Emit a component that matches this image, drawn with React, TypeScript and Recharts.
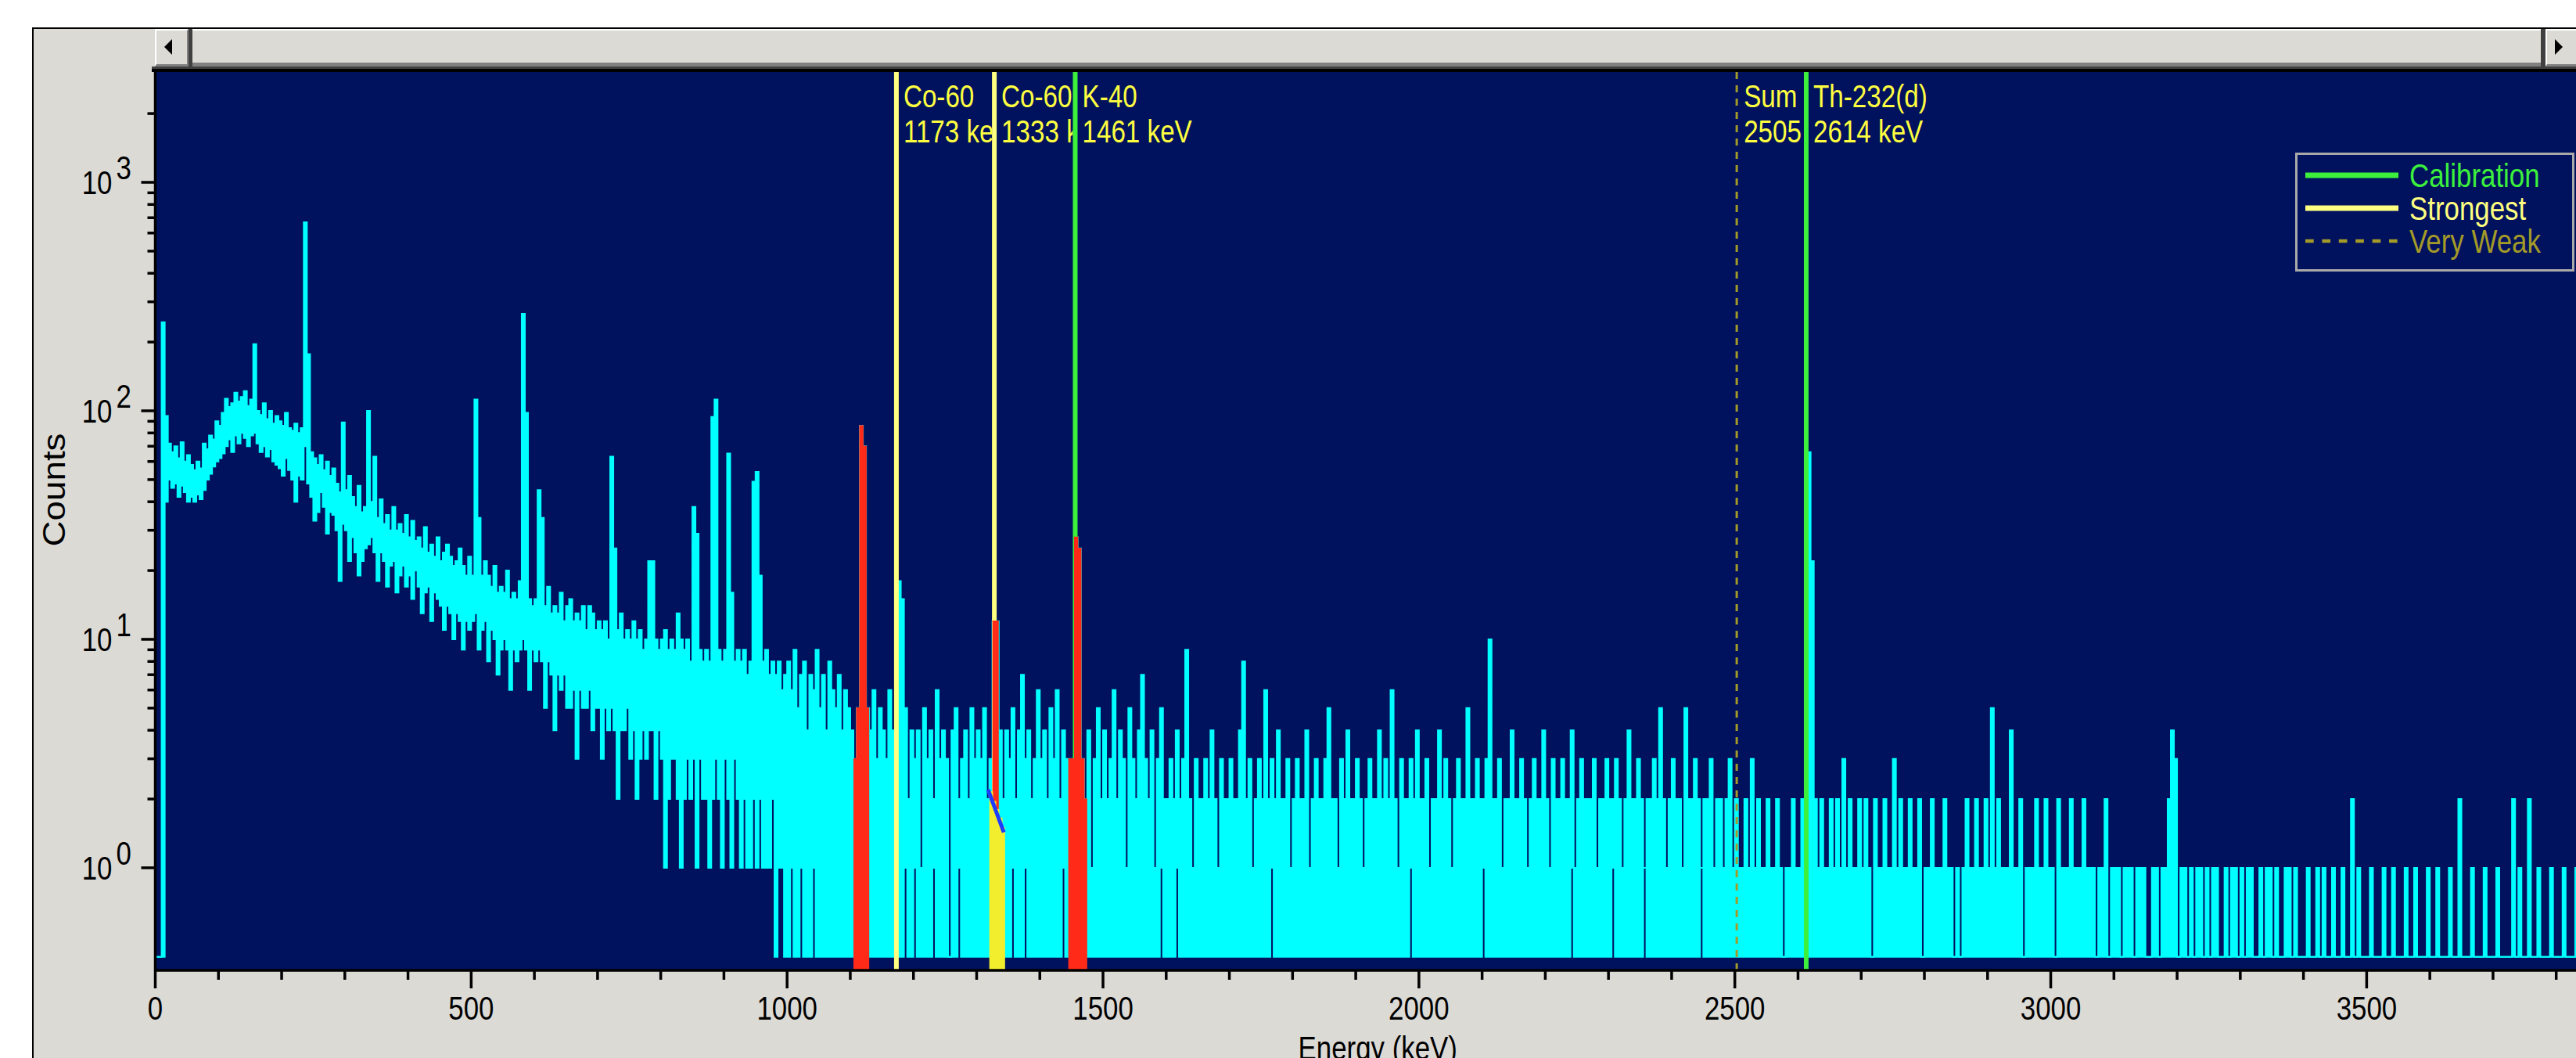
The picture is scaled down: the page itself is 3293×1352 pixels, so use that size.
import {
	ComposedChart,
	Area,
	Line,
	XAxis,
	YAxis,
	CartesianGrid,
	ReferenceLine,
	Legend
} from 'recharts'

const PANEL = '#dcdad5'
const NAVY = '#00125e'
const CYAN = '#00ffff'
const RED = '#ff2a18'
const ROI_YELLOW = '#f2ee2e'
const PALE_YELLOW = '#ffff80'
const GREEN = '#3cf03c'
const OLIVE = '#a39a28'
const LABEL_YELLOW = '#ffff40'
const BLUE = '#1f3dff'
const FONT = 'Liberation Sans, Arial, sans-serif'

// layout
const CHART_W = 3300
const CHART_H = 1352
const PLOT_LEFT = 198.5
const PLOT_TOP = 92
const AXIS_H = 112
const E_MAX = 3840
const PX_PER_KEV = (CHART_W - PLOT_LEFT) / E_MAX

// log axis range and the level where empty channels are drawn
const Y_MIN = 0.3558
const Y_MAX = 3040
const FLOOR = 0.408

// spectrum in 5 keV bins: highest count in each bin
const BIN_KEV = 5
const lowHigh = [
	0, 0, 244, 95, 72, 66, 70, 62, 73, 60, 64, 58, 55, 60, 56, 72, 68, 78, 75, 90,
	86, 98, 113, 104, 108, 120, 110, 115, 122, 105, 112, 196, 100, 96, 108, 92, 100, 88, 95, 90,
	86, 98, 84, 82, 88, 80, 84, 669, 177, 66, 62, 58, 64, 55, 60, 52, 56, 48, 44, 89,
	45, 52, 42, 38, 47, 36, 38, 100, 40, 63, 34, 41, 32, 35, 30, 38, 30, 32, 29, 35,
	28, 33, 27, 28, 25, 31, 24, 26, 23, 28, 22, 24, 26, 23, 21, 22, 25, 21, 19, 23,
	19, 112, 34, 19, 22, 19, 17, 21, 16, 17, 16, 20, 15, 16, 15, 18, 266, 98, 15, 14,
	15, 45, 34, 14, 17, 13, 14, 13, 16, 12, 14, 15, 12, 13, 12, 14, 11, 14, 13, 11,
	12, 11, 12, 10, 63, 25, 11, 13, 10, 11, 10, 12, 10, 11, 9, 10, 22, 22, 10, 9,
	10, 11, 9, 10, 9, 13, 10, 9, 10, 8, 38, 29, 9, 8, 9, 8, 94, 112, 9, 8,
	9, 65, 16, 8, 9, 8, 9, 7, 8, 49, 54, 19, 8, 9, 7, 8, 7, 8, 6, 7
]
// lowest count in each bin below 1000 keV (the continuum band)
const lowLow = [
	0, 0, 0, 40, 50, 46, 48, 42, 47, 44, 40, 42, 40, 43, 41, 45, 50, 53, 57, 60,
	62, 65, 70, 75, 66, 78, 72, 80, 76, 70, 78, 80, 72, 66, 70, 63, 68, 60, 58, 56,
	52, 62, 55, 50, 40, 52, 50, 70, 48, 42, 33, 36, 44, 38, 29, 36, 35, 30, 18, 32,
	30, 22, 28, 24, 19, 22, 25, 26, 28, 24, 18, 24, 22, 17, 21, 22, 16, 19, 21, 17,
	19, 15, 20, 17, 13, 16, 17, 12, 16, 15, 14, 11, 14, 13, 10, 13, 12, 9, 12, 11,
	12, 13, 9, 11, 12, 8, 11, 10, 7, 9, 10, 9, 6, 9, 8, 9, 10, 9, 6, 9,
	8, 9, 8, 5, 8, 7, 4, 7, 6, 7, 5, 5, 6, 3, 6, 5, 5, 6, 4, 5,
	5, 3, 5, 4, 5, 4, 2, 4, 4, 5, 3, 4, 2, 3, 4, 3, 4, 4, 2, 4,
	3, 1, 2, 3, 3, 2, 1, 2, 3, 2, 3, 1, 3, 2, 2, 1, 2, 3, 2, 1,
	3, 2, 1, 3, 2, 1, 2, 1, 1, 2, 1, 2, 1, 1, 1, 2, 0, 1, 1, 0
]
const midHigh = [
	8, 6, 9, 5, 7, 8, 4, 7, 6, 9, 5, 7, 4, 8, 6, 5, 7, 4, 6, 5,
	4, 3, 5, 86, 70, 5, 4, 6, 3, 5, 4, 3, 6, 4, 4, 18, 15, 5, 2, 4,
	3, 4, 1, 5, 3, 4, 2, 6, 3, 4, 3, 0, 4, 5, 2, 3, 4, 2, 5, 3,
	4, 3, 5, 2, 3, 12, 12, 4, 2, 4, 3, 5, 2, 4, 7, 3, 4, 2, 3, 6,
	3, 4, 2, 5, 3, 6, 2, 4, 3, 3, 3, 28, 25, 3, 2, 4, 1, 3, 5, 2,
	4, 2, 3, 6, 2, 4, 3, 1, 5, 3, 2, 4, 7, 3, 2, 4, 1, 3, 5, 2,
	2, 3, 2, 4, 2, 3, 9, 2, 1, 3, 2, 2, 3, 2, 4, 2, 1, 3, 2, 2,
	3, 2, 2, 4, 8, 2, 3, 1, 2, 3, 2, 6, 2, 3, 2, 4, 2, 2, 3, 1,
	2, 3, 2, 2, 4, 1, 2, 3, 2, 2, 3, 5, 2, 2, 1, 3, 2, 4, 2, 2,
	3, 2, 1, 2, 3, 2, 2, 4, 2, 3, 2, 6, 2, 1, 3, 2, 2, 3, 2, 4
]
const highHigh = [
	2, 2, 3, 1, 2, 2, 4, 2, 3, 2, 1, 2, 3, 2, 2, 5, 2, 2, 3, 2,
	2, 3, 10, 2, 2, 3, 1, 2, 2, 4, 2, 2, 3, 2, 1, 2, 3, 2, 2, 4,
	2, 1, 3, 2, 2, 3, 2, 2, 4, 1, 2, 3, 2, 2, 2, 3, 1, 2, 2, 3,
	2, 2, 3, 2, 1, 2, 4, 2, 2, 3, 2, 1, 2, 2, 3, 2, 5, 2, 1, 2,
	3, 2, 2, 1, 5, 2, 2, 3, 2, 1, 2, 2, 3, 1, 2, 2, 1, 2, 3, 1,
	2, 1, 1, 2, 1, 3, 1, 2, 1, 1, 2, 1, 1, 2, 1, 0, 1, 1, 2, 1,
	1, 2, 1, 66, 22, 2, 1, 2, 1, 1, 2, 1, 2, 1, 3, 1, 2, 1, 1, 2,
	1, 2, 1, 0, 2, 1, 1, 2, 1, 1, 3, 1, 2, 1, 1, 2, 1, 1, 2, 0,
	1, 1, 2, 1, 1, 1, 2, 1, 1, 0, 1, 0, 1, 2, 1, 1, 2, 1, 1, 2,
	1, 5, 1, 2, 1, 1, 1, 4, 1, 1, 2, 0, 1, 1, 1, 2, 1, 1, 2, 1
]
const tailHigh = [
	1, 0, 2, 1, 1, 1, 2, 1, 1, 1, 2, 1, 1, 1, 0, 1, 1, 2, 0, 1,
	1, 1, 0, 1, 1, 1, 0, 1, 1, 1, 0, 0, 1, 1, 0, 1, 1, 2, 4, 3,
	0, 1, 1, 0, 1, 0, 1, 1, 0, 1, 0, 1, 1, 0, 0, 1, 0, 1, 1, 0,
	1, 0, 1, 1, 0, 0, 1, 0, 1, 1, 0, 1, 0, 0, 1, 1, 0, 1, 0, 0,
	0, 1, 0, 0, 1, 0, 1, 0, 0, 1, 0, 0, 1, 0, 0, 2, 0, 1, 0, 0,
	0, 1, 0, 0, 0, 1, 0, 0, 1, 0, 0, 0, 1, 0, 0, 1, 0, 0, 0, 1,
	0, 0, 1, 0, 0, 0, 1, 0, 0, 2, 0, 0, 0, 1, 0, 0, 0, 1, 0, 0,
	0, 1, 0, 0, 0, 0, 2, 0, 1, 0, 0, 2, 0, 0, 1, 0, 0, 0, 1, 0,
	0, 0, 1, 0, 0, 0, 1, 0
]
// bins above 1000 keV whose lowest count stays at 1
const gapEnergies = [1005, 1020, 1040, 1185, 1200, 1230, 1270, 1355, 1375, 1435, 1590, 1615, 1765, 1985, 2100, 2240, 2305, 2355, 2445]

// regions of interest (first and last bin, keV)
const peakRois = [
	[1105, 1125],
	[1445, 1470]
]
const strongRoi = [1320, 1340]
const strongNet = [1325, 1330]
const strongBackground = [2.15, 1.95, 1.8, 1.65, 1.5]
const baselinePoints = [
	{ e: 1318, v: 2.2 },
	{ e: 1343, v: 1.43 }
]

const markers = [
	{ e: 1173, isotope: 'Co-60', energyText: '1173 keV', kind: 'strong' },
	{ e: 1328, isotope: 'Co-60', energyText: '1333 keV', kind: 'strong' },
	{ e: 1456, isotope: 'K-40', energyText: '1461 keV', kind: 'calib' },
	{ e: 2503, isotope: 'Sum', energyText: '2505 keV', kind: 'weak' },
	{ e: 2613, isotope: 'Th-232(d)', energyText: '2614 keV', kind: 'calib' }
]
const markerStyle: any = {
	strong: { stroke: PALE_YELLOW, width: 6 },
	calib: { stroke: GREEN, width: 6 },
	weak: { stroke: OLIVE, width: 3, dash: '9 8' }
}
const legendRows = [
	{ label: 'Calibration', color: GREEN, width: 7 },
	{ label: 'Strongest', color: PALE_YELLOW, width: 7 },
	{ label: 'Very Weak', color: OLIVE, width: 4.7, dash: '10.7 10.7' }
]

const counts = [...lowHigh, ...midHigh, ...highHigh, ...tailHigh]
const minOf = (i: number) => (i < lowLow.length ? lowLow[i] : gapEnergies.includes(i * BIN_KEV) ? 1 : 0)
const shown = (c: number) => Math.max(c, FLOOR)

const rows = Array.from({ length: counts.length + 1 }, (_, i) => {
	const k = Math.min(i, counts.length - 1)
	const e = i * BIN_KEV
	const row: any = { e, spec: [shown(minOf(k)), shown(counts[k])], red: null, yellow: null }
	peakRois.forEach(([a, b]) => {
		if (e >= a && e <= b + BIN_KEV) row.red = [Y_MIN, shown(counts[Math.min(e, b) / BIN_KEV])]
	})
	if (e >= strongRoi[0] && e <= strongRoi[1] + BIN_KEV) {
		const be = Math.min(e, strongRoi[1])
		const bg = strongBackground[(be - strongRoi[0]) / BIN_KEV]
		row.yellow = [Y_MIN, bg]
		if (e >= strongNet[0] && e <= strongNet[1] + BIN_KEV) {
			const ne = Math.min(e, strongNet[1])
			row.red = [strongBackground[(ne - strongRoi[0]) / BIN_KEV], counts[ne / BIN_KEV]]
		}
	}
	return row
})

const xTicks = Array.from({ length: 39 }, (_, i) => i * 100)
const yTicks: number[] = []
for (let d = 1; d <= 100; d *= 10) for (let m = 1; m <= 9; m++) yTicks.push(m * d)
yTicks.push(1000, 2000)

const XTick = ({ x, y, payload }: any) => {
	const major = payload.value % 500 === 0
	return (
		<g>
			<line x1={x} y1={y} x2={x} y2={y + (major ? 23 : 12)} stroke="#000" strokeWidth={3.5} />
			{major && (
				<g transform={`translate(${x},${y + 63}) scale(0.83,1)`}>
					<text textAnchor="middle" fontSize={42} fontFamily={FONT} fill="#000">
						{payload.value}
					</text>
				</g>
			)}
		</g>
	)
}

const YTick = ({ x, y, payload }: any) => {
	const exp = Math.log10(payload.value)
	const major = Math.abs(exp - Math.round(exp)) < 1e-9
	return (
		<g>
			<line x1={x - (major ? 18 : 10)} y1={y} x2={x} y2={y} stroke="#000" strokeWidth={3.5} />
			{major && (
				<g>
					<g transform={`translate(${x - 55},${y + 15}) scale(0.83,1)`}>
						<text textAnchor="end" fontSize={42} fontFamily={FONT} fill="#000">
							10
						</text>
					</g>
					<g transform={`translate(${x - 50},${y - 4}) scale(0.83,1)`}>
						<text fontSize={42} fontFamily={FONT} fill="#000">
							{Math.round(exp)}
						</text>
					</g>
				</g>
			)}
		</g>
	)
}

const EnergyTitle = ({ viewBox }: any) => (
	<g transform={`translate(${viewBox.x + viewBox.width / 2 + 12},${viewBox.y + 114}) scale(0.83,1)`}>
		<text textAnchor="middle" fontSize={42} fontFamily={FONT} fill="#000">
			Energy (keV)
		</text>
	</g>
)

const CountsTitle = ({ viewBox }: any) => (
	<g transform={`translate(83,${viewBox.y + viewBox.height / 2 - 40}) rotate(-90)`}>
		<text textAnchor="middle" fontSize={40} fontFamily={FONT} fill="#000" textLength={145} lengthAdjust="spacingAndGlyphs">
			Counts
		</text>
	</g>
)

// marker captions are cut off where the next marker line starts
const MarkerLabel = ({ viewBox, isotope, energyText, room, clipId }: any) => {
	const x = viewBox.x
	const top = viewBox.y
	return (
		<g>
			<defs>
				<clipPath id={clipId}>
					<rect x={x + 3} y={top} width={room} height={110} />
				</clipPath>
			</defs>
			<g clipPath={`url(#${clipId})`}>
				<g transform={`translate(${x + 9},${top}) scale(0.83,1)`}>
					<text y={45} fontSize={40} fontFamily={FONT} fill={LABEL_YELLOW}>
						{isotope}
					</text>
					<text y={90} fontSize={40} fontFamily={FONT} fill={LABEL_YELLOW}>
						{energyText}
					</text>
				</g>
			</g>
		</g>
	)
}

const LegendBox = () => (
	<svg width={357} height={152}>
		<rect x={1.5} y={1.5} width={354} height={149} fill={NAVY} stroke="#a9a9a9" strokeWidth={3} />
		{legendRows.map((r, i) => {
			const ly = 29 + i * 42
			return (
				<g key={r.label}>
					<line x1={13} x2={132} y1={ly} y2={ly} stroke={r.color} strokeWidth={r.width} strokeDasharray={r.dash} />
					<g transform={`translate(146,${ly + 15}) scale(0.83,1)`}>
						<text fontSize={42} fontFamily={FONT} fill={r.color}>
							{r.label}
						</text>
					</g>
				</g>
			)
		})}
	</svg>
)

const Arrow = ({ dir }: any) => (
	<svg width={10} height={20} style={{ position: 'absolute', left: 10, top: 11 }}>
		<polygon points={dir < 0 ? '10,0 0,10 10,20' : '0,0 10,10 0,20'} fill="#000" />
	</svg>
)

const box = (left: number, top: number, width: number, height: number, extra: any = {}) => ({
	position: 'absolute' as const,
	left,
	top,
	width,
	height,
	boxSizing: 'border-box' as const,
	...extra
})

const SpectrumChart = () => (
	<ComposedChart width={CHART_W} height={CHART_H} data={rows} margin={{ top: PLOT_TOP, right: 0, bottom: 0, left: 0 }}>
		<CartesianGrid horizontal={false} vertical={false} fill={NAVY} stroke="none" />
		<XAxis
			type="number"
			dataKey="e"
			domain={[0, E_MAX]}
			allowDataOverflow
			ticks={xTicks}
			interval={0}
			tickSize={0}
			tickMargin={0}
			tickLine={false}
			tick={XTick}
			height={AXIS_H}
			axisLine={{ stroke: '#000', strokeWidth: 3.5 }}
			label={<EnergyTitle />}
		/>
		<YAxis
			type="number"
			scale="log"
			domain={[Y_MIN, Y_MAX]}
			allowDataOverflow
			ticks={yTicks}
			interval={0}
			tickSize={0}
			tickMargin={0}
			tickLine={false}
			tick={YTick}
			width={PLOT_LEFT}
			axisLine={{ stroke: '#000', strokeWidth: 3.5 }}
			label={<CountsTitle />}
		/>
		<Area
			dataKey="spec"
			type="stepAfter"
			stroke={CYAN}
			strokeWidth={2}
			fill={CYAN}
			fillOpacity={1}
			dot={false}
			activeDot={false}
			isAnimationActive={false}
			zIndex={100}
		/>
		{markers.map((m, i) => {
			const st = markerStyle[m.kind]
			const next = markers[i + 1]
			const room = next ? (next.e - m.e) * PX_PER_KEV - 6 : 400
			return (
				<ReferenceLine
					key={m.e}
					x={m.e}
					stroke={st.stroke}
					strokeWidth={st.width}
					strokeDasharray={st.dash}
					zIndex={200}
					label={<MarkerLabel isotope={m.isotope} energyText={m.energyText} room={room} clipId={`marker-clip-${i}`} />}
				/>
			)
		})}
		<Area
			dataKey="red"
			type="stepAfter"
			stroke={RED}
			strokeWidth={1.5}
			fill={RED}
			fillOpacity={1}
			dot={false}
			activeDot={false}
			isAnimationActive={false}
			zIndex={300}
		/>
		<Area
			dataKey="yellow"
			type="stepAfter"
			stroke={ROI_YELLOW}
			strokeWidth={1.5}
			fill={ROI_YELLOW}
			fillOpacity={1}
			dot={false}
			activeDot={false}
			isAnimationActive={false}
			zIndex={300}
		/>
		<Line
			data={baselinePoints}
			dataKey="v"
			type="linear"
			stroke={BLUE}
			strokeWidth={5}
			dot={false}
			activeDot={false}
			isAnimationActive={false}
			zIndex={400}
		/>
		<Legend
			content={() => <LegendBox />}
			layout="horizontal"
			verticalAlign="middle"
			align="center"
			wrapperStyle={{ left: 2934, top: 195, width: 357, height: 152 }}
		/>
	</ComposedChart>
)

export default function App() {
	return (
		<div style={{ position: 'fixed', left: 0, top: 0, width: 3293, height: 1352, overflow: 'hidden', background: '#fff' }}>
			<div style={box(41, 35, 3400, 1400, { background: PANEL, borderLeft: '2px solid #000', borderTop: '2px solid #000' })} />
			{/* scroll bar above the plot */}
			<div style={box(198, 37, 43, 48, { background: PANEL, borderTop: '2px solid #fff', borderLeft: '2px solid #fff', borderRight: '2px solid #808080', borderBottom: '3px solid #808080' })}>
				<Arrow dir={-1} />
			</div>
			<div style={box(241, 37, 5, 48, { background: '#404040' })} />
			<div style={box(246, 37, 3002, 48, { background: PANEL, borderTop: '2px solid #fff', borderBottom: '5px solid #808080' })} />
			<div style={box(3248, 37, 6, 48, { background: '#404040' })} />
			<div style={box(3254, 37, 60, 48, { background: PANEL, borderTop: '2px solid #fff', borderLeft: '2px solid #fff', borderBottom: '3px solid #808080' })}>
				<Arrow dir={1} />
			</div>
			<div style={box(194, 85, 3200, 3, { background: '#404040' })} />
			<div style={box(194, 88, 3200, 4, { background: '#000' })} />
			<div style={box(PLOT_LEFT, PLOT_TOP, 3200, 1148, { background: NAVY })} />
			<div style={{ position: 'absolute', left: 0, top: 0 }}>
				<SpectrumChart />
			</div>
		</div>
	)
}
